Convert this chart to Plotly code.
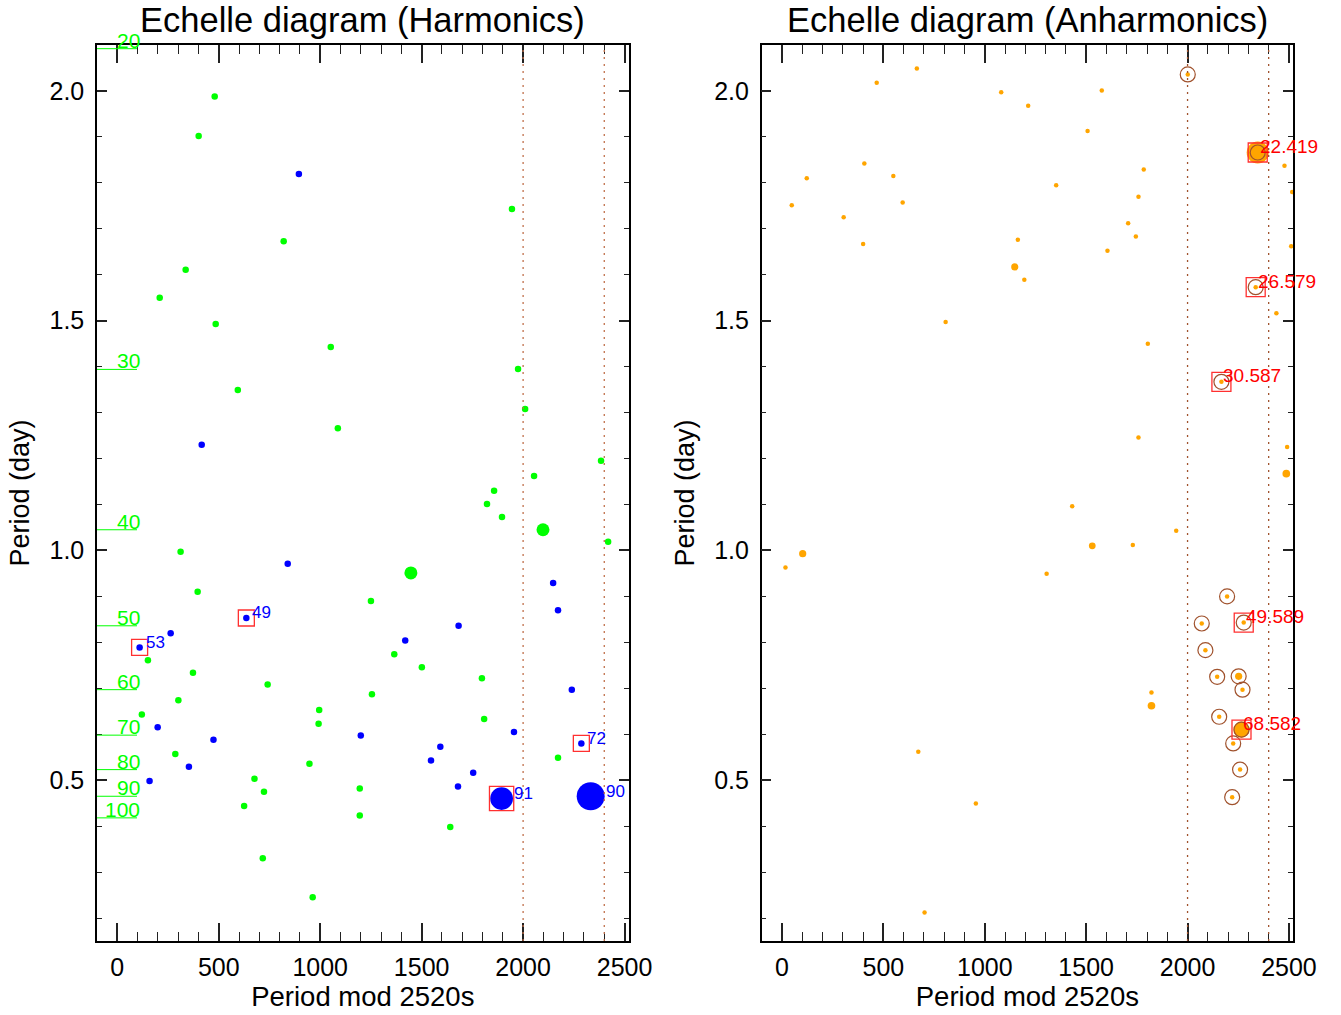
import plotly.graph_objects as go

# ---------------- data ----------------
# Left panel: harmonics
harm_green_x = [480, 401, 337, 209, 485, 820, 1052, 594, 1087, 1945, 1975, 2010,
                2054, 2384, 1857, 1822, 1896, 2098, 2419, 1447, 312, 396, 1250,
                151, 373, 741, 301, 121, 995, 992, 286, 947, 676, 723, 625, 1195,
                1195, 717, 963, 1255, 1797, 1808, 1641, 2172, 1501, 1365]
harm_green_y = [1.988, 1.902, 1.611, 1.550, 1.493, 1.673, 1.443, 1.349, 1.266,
                1.743, 1.395, 1.308, 1.162, 1.195, 1.130, 1.101, 1.073, 1.045,
                1.019, 0.951, 0.997, 0.910, 0.890, 0.761, 0.734, 0.708, 0.674,
                0.643, 0.653, 0.623, 0.557, 0.536, 0.503, 0.475, 0.444, 0.482,
                0.423, 0.330, 0.245, 0.687, 0.722, 0.633, 0.398, 0.549, 0.746,
                0.774]
harm_green_amp = [1, 1, 1, 1, 1, 1, 1, 1, 1, 1, 1, 1, 1, 1, 1, 1, 1, 2, 1, 2, 1, 1,
                  1, 1, 1, 1, 1, 1, 1, 1, 1, 1, 1, 1, 1, 1, 1, 1, 1, 1, 1, 1, 1, 1,
                  1, 1]

harm_blue_x = [895, 416, 840, 2148, 2172, 1419, 1682, 263, 636, 110, 199, 474,
               353, 159, 1200, 1592, 1546, 1754, 1679, 1955, 2240, 2287, 1894, 2333]
harm_blue_y = [1.819, 1.230, 0.971, 0.929, 0.870, 0.804, 0.836, 0.820, 0.853,
               0.789, 0.615, 0.588, 0.529, 0.498, 0.597, 0.573, 0.543, 0.516,
               0.486, 0.605, 0.697, 0.580, 0.460, 0.465]
harm_blue_amp = [1, 1, 1, 1, 1, 1, 1, 1, 1, 1, 1, 1, 1, 1, 1, 1, 1, 1, 1, 1, 1, 1,
                 3.5, 4.3]
harm_blue_label = ["", "", "", "", "", "", "", "", "49", "53", "", "", "", "", "",
                   "", "", "", "", "", "", "72", "91", "90"]
harm_blue_boxed = [0, 0, 0, 0, 0, 0, 0, 0, 1, 1, 0, 0, 0, 0, 0, 0, 0, 0, 0, 0, 0, 1,
                   1, 0]

# harmonic order reference marks
order_n = [20, 30, 40, 50, 60, 70, 80, 90, 100]
order_period = [2.092, 1.394, 1.045, 0.836, 0.697, 0.598, 0.523, 0.465, 0.418]

# Right panel: anharmonics
anh_x = [665, 467, 1081, 406, 122, 549, 48, 595, 304, 400, 807, 1214, 1577, 1507,
         1784, 1352, 1758, 1707, 1745, 1163, 1605, 1148, 1195, 1804, 1758, 1431,
         1530, 1730, 1305, 17, 102, 1944, 1822, 1822, 672, 956, 703, 2491, 2487,
         2346, 2478, 2516, 2511, 2336, 2438, 2167, 2195, 2277, 2070, 2088, 2146,
         2252, 2271, 2156, 2266, 2225, 2259, 2220, 2001]
anh_y = [2.049, 2.018, 1.997, 1.842, 1.810, 1.815, 1.751, 1.757, 1.725, 1.667,
         1.497, 1.968, 2.001, 1.913, 1.829, 1.795, 1.770, 1.712, 1.683, 1.676,
         1.652, 1.617, 1.589, 1.450, 1.246, 1.096, 1.010, 1.012, 0.949, 0.963,
         0.993, 1.043, 0.691, 0.662, 0.562, 0.449, 0.212, 1.225, 1.167, 1.866,
         1.837, 1.780, 1.662, 1.573, 1.516, 1.367, 0.900, 0.843, 0.841, 0.783,
         0.725, 0.726, 0.697, 0.638, 0.610, 0.580, 0.523, 0.463, 2.036]
anh_amp = [1, 1, 1, 1, 1, 1, 1, 1, 1, 1, 1, 1, 1, 1, 1, 1, 1, 1, 1, 1, 1, 1.6, 1,
           1, 1, 1, 1.5, 1, 1, 1, 1.6, 1, 1, 1.7, 1, 1, 1, 1, 1.7, 4.9, 1, 1, 1,
           1, 1, 1, 1, 1, 1, 1, 1, 1.6, 1, 1, 3.6, 1, 1, 1, 1]
anh_circled = [0, 0, 0, 0, 0, 0, 0, 0, 0, 0, 0, 0, 0, 0, 0, 0, 0, 0, 0, 0, 0, 0, 0,
               0, 0, 0, 0, 0, 0, 0, 0, 0, 0, 0, 0, 0, 0, 0, 0, 1, 0, 0, 0, 1, 0, 1,
               1, 1, 1, 1, 1, 1, 1, 1, 1, 1, 1, 1, 1]
anh_label = [""] * 39 + ["22.419", "", "", "", "26.579", "", "30.587", "",
                         "49.589", "", "", "", "", "", "", "68.582", "", "", "", ""]

vlines = [2000, 2400]

# ---------------- figure ----------------
FONT = "Liberation Sans, Arial, Helvetica, sans-serif"
GREEN = "#00ff00"
BLUE = "#0000ff"
ORANGE = "#ffa500"
RED = "#ff0000"
BROWN = "#a0522d"

fig = go.Figure()

# green harmonics
fig.add_trace(go.Scatter(
    x=harm_green_x, y=harm_green_y, mode="markers",
    marker=dict(color=GREEN, opacity=1, size=[6.5 * a for a in harm_green_amp],
                line=dict(width=0)),
    xaxis="x", yaxis="y", showlegend=False, hoverinfo="x+y"))

# blue harmonics
fig.add_trace(go.Scatter(
    x=harm_blue_x, y=harm_blue_y, mode="markers",
    marker=dict(color=BLUE, opacity=1, size=[6.5 * a for a in harm_blue_amp],
                line=dict(width=0)),
    xaxis="x", yaxis="y", showlegend=False, hoverinfo="x+y"))

# red boxes around selected harmonics
bx = [x for x, b in zip(harm_blue_x, harm_blue_boxed) if b]
by = [y for y, b in zip(harm_blue_y, harm_blue_boxed) if b]
bs = [max(16, 6.5 * a + 1.5) for a, b in zip(harm_blue_amp, harm_blue_boxed) if b]
fig.add_trace(go.Scatter(
    x=bx, y=by, mode="markers",
    marker=dict(symbol="square-open", color="#ff3030", opacity=1, size=bs,
                line=dict(width=1.3)),
    xaxis="x", yaxis="y", showlegend=False, hoverinfo="skip"))

# anharmonics: dots
fig.add_trace(go.Scatter(
    x=anh_x, y=anh_y, mode="markers",
    marker=dict(color=ORANGE, opacity=1, size=[4.5 * a for a in anh_amp],
                line=dict(width=0)),
    xaxis="x2", yaxis="y2", showlegend=False, hoverinfo="x+y"))

# anharmonics: circles
cx = [x for x, c in zip(anh_x, anh_circled) if c]
cy = [y for y, c in zip(anh_y, anh_circled) if c]
fig.add_trace(go.Scatter(
    x=cx, y=cy, mode="markers",
    marker=dict(symbol="circle-open", color=BROWN, opacity=1, size=15,
                line=dict(width=1.2)),
    xaxis="x2", yaxis="y2", showlegend=False, hoverinfo="skip"))

# anharmonics: red boxes for labelled
lx = [x for x, l in zip(anh_x, anh_label) if l]
ly = [y for y, l in zip(anh_y, anh_label) if l]
fig.add_trace(go.Scatter(
    x=lx, y=ly, mode="markers",
    marker=dict(symbol="square-open", color="#ff3030", opacity=1, size=19,
                line=dict(width=1.3)),
    xaxis="x2", yaxis="y2", showlegend=False, hoverinfo="skip"))

annotations = []
shapes = []

# blue labels
for x, y, a, l in zip(harm_blue_x, harm_blue_y, harm_blue_amp, harm_blue_label):
    if l:
        annotations.append(dict(
            x=x, y=y, xref="x", yref="y", text=l, showarrow=False,
            xanchor="left", yanchor="middle", xshift=max(4, 6.5 * a / 2 - 0.5),
            yshift=5, font=dict(family=FONT, size=17, color=BLUE)))

# red labels right
for x, y, l in zip(anh_x, anh_y, anh_label):
    if l:
        annotations.append(dict(
            x=x, y=y, xref="x2", yref="y2", text=l, showarrow=False,
            xanchor="left", yanchor="middle", xshift=0, yshift=6,
            font=dict(family=FONT, size=19, color=RED)))

# order marks
for n, p in zip(order_n, order_period):
    shapes.append(dict(type="line", xref="x", yref="y", x0=-100, x1=97, y0=p, y1=p,
                       line=dict(color=GREEN, width=1)))
    annotations.append(dict(
        x=118, y=p, xref="x", yref="y", text=str(n), showarrow=False,
        xanchor="right", yanchor="bottom", yshift=-4, borderpad=0,
        font=dict(family=FONT, size=21, color=GREEN)))

# dotted vertical lines
for v in vlines:
    shapes.append(dict(type="line", xref="x", yref="y domain", x0=v, x1=v, y0=0, y1=1,
                       line=dict(color="#c0704a", width=1.3, dash="2px,5px")))
    shapes.append(dict(type="line", xref="x2", yref="y2 domain", x0=v, x1=v, y0=0, y1=1,
                       line=dict(color=BROWN, width=1.3, dash="2px,5px")))

# titles
annotations.append(dict(x=0.2218, y=1.028, xref="paper", yref="paper",
                        text="Echelle diagram (Harmonics)", showarrow=False,
                        xanchor="center", yanchor="middle",
                        font=dict(family=FONT, size=34.5, color="black")))
annotations.append(dict(x=0.7782, y=1.028, xref="paper", yref="paper",
                        text="Echelle diagram (Anharmonics)", showarrow=False,
                        xanchor="center", yanchor="middle",
                        font=dict(family=FONT, size=34.5, color="black")))

xcommon = dict(range=[-100, 2520], tick0=0, dtick=500, ticks="inside", ticklen=18,
               tickwidth=1.5, tickcolor="#222", showline=True, linecolor="black",
               linewidth=1.5, mirror="allticks", showgrid=False, zeroline=False,
               automargin=False,
               minor=dict(ticks="inside", ticklen=9, dtick=100, tick0=0,
                          tickwidth=1.3, tickcolor="#222", showgrid=False),
               tickfont=dict(family=FONT, size=25, color="black"),
               title=dict(text="Period mod 2520s", standoff=3,
                          font=dict(family=FONT, size=27.5, color="black")),
               ticklabelstandoff=3)
ycommon = dict(range=[0.15, 2.1], tick0=0, dtick=0.5, tickformat=".1f",
               ticks="inside", ticklen=10, tickwidth=1.5, tickcolor="#222",
               showline=True, linecolor="black", linewidth=1.5, mirror="allticks",
               showgrid=False, zeroline=False, automargin=False,
               minor=dict(ticks="inside", ticklen=5, dtick=0.1, tick0=0,
                          tickwidth=1.3, tickcolor="#222", showgrid=False),
               tickfont=dict(family=FONT, size=25, color="black"),
               title=dict(text="Period (day)", standoff=12,
                          font=dict(family=FONT, size=27, color="black")),
               ticklabelstandoff=6)

fig.update_layout(
    width=1341, height=1015,
    margin=dict(l=97, r=48, t=45, b=74, pad=0),
    paper_bgcolor="white", plot_bgcolor="white",
    xaxis=dict(domain=[0, 0.4445], anchor="y", **xcommon),
    yaxis=dict(domain=[0, 1], anchor="x", **ycommon),
    xaxis2=dict(domain=[0.5558, 1], anchor="y2", **xcommon),
    yaxis2=dict(domain=[0, 1], anchor="x2", **ycommon),
    annotations=annotations, shapes=shapes,
    font=dict(family=FONT, color="black"),
)

fig.write_html("out.html", config={"displayModeBar": False},
               post_script="document.body.style.margin='0';")
